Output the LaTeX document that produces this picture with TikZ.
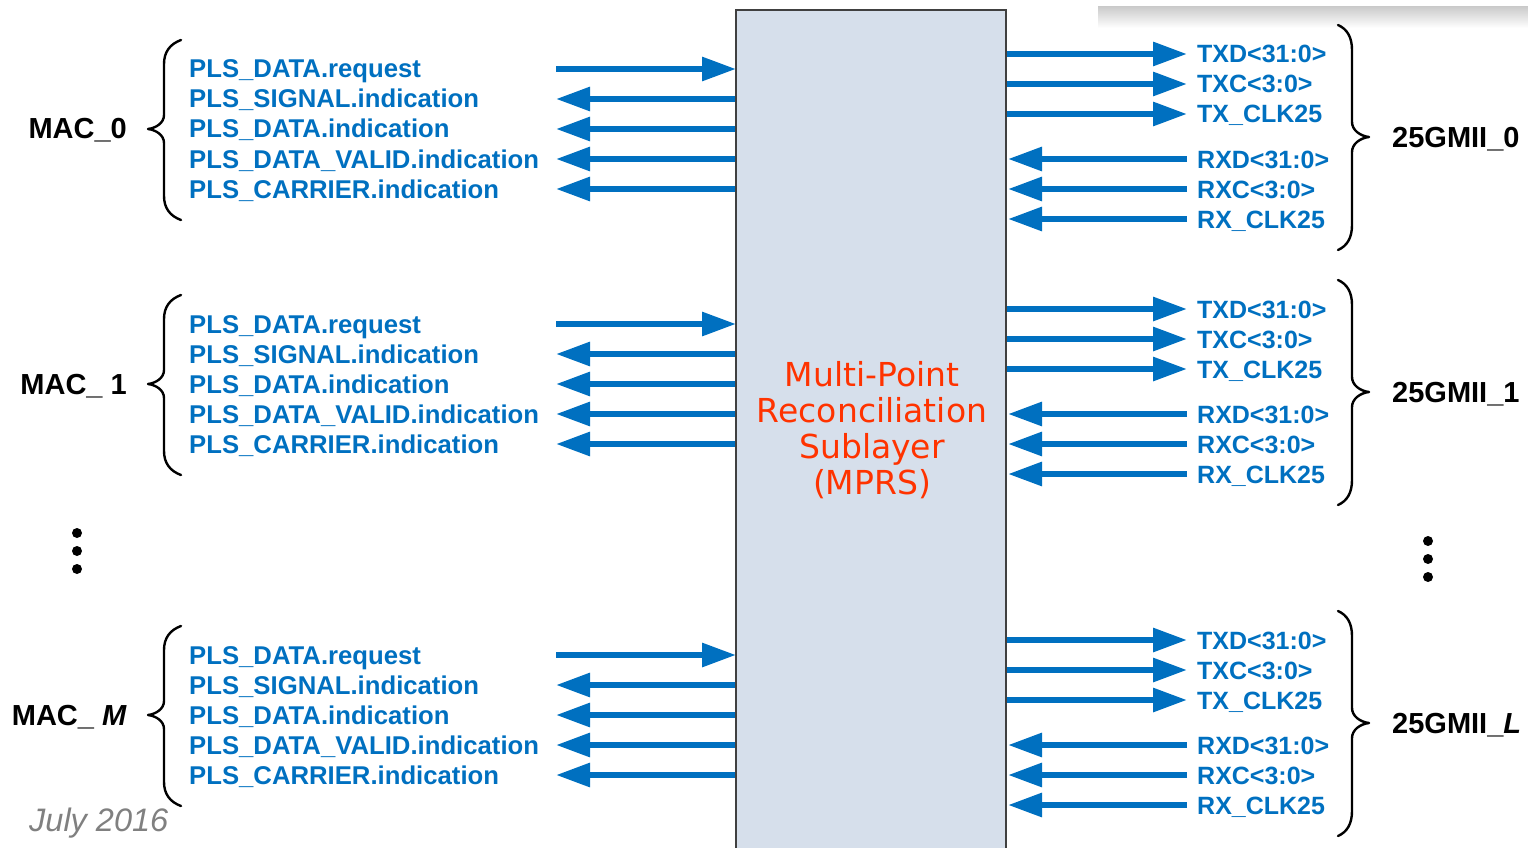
\documentclass[tikz,border=0pt]{standalone}
\usepackage{fontspec}
\setmainfont{Liberation Sans}
\newfontfamily\mprsfont{DejaVu Sans}
\usetikzlibrary{arrows.meta}
\definecolor{sigblue}{RGB}{0,112,192}
\definecolor{mprsred}{RGB}{255,51,0}
\definecolor{boxfill}{RGB}{214,223,235}
\definecolor{boxline}{RGB}{64,64,64}
\definecolor{notegray}{RGB}{128,128,128}
\tikzset{
  sig/.style={inner sep=0pt, text=sigblue, font=\fontsize{25}{30}\selectfont\bfseries},
  macsig/.style={sig, font=\fontsize{25.7}{30}\selectfont\bfseries},
  portname/.style={inner sep=0pt, text=black, font=\fontsize{29}{34}\selectfont\bfseries},
  sigarrow/.style={draw=sigblue, line width=6pt, -{Triangle[length=34pt,width=23pt]}},
  brace/.style={draw=black, line width=2.4pt, line cap=round, line join=round},
  vdot/.style={circle, fill=black, inner sep=0pt, minimum size=10pt},
}
\begin{document}
\begin{tikzpicture}[x=1pt,y=-1pt]
\useasboundingbox (0,0) rectangle (1528,848);

% page strip with soft drop shadow, top right
\shade[top color=black!22, bottom color=white] (1098,5) rectangle (1528,28);
\fill[white] (1098,0) rectangle (1528,6);

% MAC side: signals, arrows and braces
\foreach \g/\dy/\mac in {0/0/{MAC\_0}, 1/255/{MAC\_ 1}, 2/586/{MAC\_ \textit{M}}} {
  \foreach \lbl [count=\i from 0] in {PLS\_DATA.request, PLS\_SIGNAL.indication,
      PLS\_DATA.indication, PLS\_DATA\_VALID.indication, PLS\_CARRIER.indication} {
    \node[macsig, anchor=base west] (ls\g\i) at (189, 78+\dy+30*\i) {\lbl};
    \coordinate (la\g\i) at (556, 69+\dy+30*\i);
    \coordinate (lb\g\i) at (736, 69+\dy+30*\i);
  }
  \draw[sigarrow] (la\g0) -- (lb\g0);
  \foreach \i in {1,...,4} { \draw[sigarrow] (lb\g\i) -- (la\g\i); }
  \draw[brace] (181,40+\dy) .. controls (170,44+\dy) and (164,52+\dy) .. (164,64+\dy)
     -- (164,115+\dy) .. controls (164,123+\dy) and (156,128+\dy) .. (148,129+\dy)
     .. controls (156,130+\dy) and (164,135+\dy) .. (164,143+\dy)
     -- (164,196+\dy) .. controls (164,208+\dy) and (170,216+\dy) .. (181,220+\dy);
  \node[portname, anchor=base east] (mac\g) at (127, 139+\dy) {\mac};
}

% 25GMII side: signals, arrows and braces
\foreach \g/\dy/\mii in {0/0/{25GMII\_0}, 1/255/{25GMII\_1}, 2/586/{25GMII\_\textit{L}}} {
  \foreach \lbl/\yy [count=\i from 0] in {TXD<31:0>/54, TXC<3:0>/84, TX\_CLK25/114,
      RXD<31:0>/159, RXC<3:0>/189, RX\_CLK25/219} {
    \node[sig, anchor=base west] (rs\g\i) at (1197, \yy+9+\dy) {\lbl};
    \coordinate (rb\g\i) at (1006, \yy+\dy);
    \coordinate (ra\g\i) at (1187, \yy+\dy);
  }
  \foreach \i in {0,1,2} { \draw[sigarrow] (rb\g\i) -- (ra\g\i); }
  \foreach \i in {3,4,5} { \draw[sigarrow] (ra\g\i) -- ([xshift=2pt]rb\g\i); }
  \draw[brace] (1338,25+\dy) .. controls (1347,29+\dy) and (1352,37+\dy) .. (1352,50+\dy)
     -- (1352,122+\dy) .. controls (1352,130+\dy) and (1360,136+\dy) .. (1369,137+\dy)
     .. controls (1360,138+\dy) and (1352,144+\dy) .. (1352,152+\dy)
     -- (1352,225+\dy) .. controls (1352,238+\dy) and (1347,246+\dy) .. (1338,250+\dy);
  \node[portname, anchor=base west] (mii\g) at (1392, 147+\dy) {\mii};
}

% Multi-Point Reconciliation Sublayer block
\fill[boxfill] (736,10) rectangle (1006,848);
\draw[boxline, line width=1.5pt] (736,849) |- (1006,10) -- (1006,849);
\node[align=center, text=mprsred, inner sep=0pt,
      font=\mprsfont\fontsize{33}{36}\selectfont] (mprs) at (872,430)
  {Multi-Point\\Reconciliation\\Sublayer\\(MPRS)};

% ellipsis dots
\node[vdot] (ldot1) at (77,533) {};
\node[vdot] (ldot2) at (77,551) {};
\node[vdot] (ldot3) at (77,569) {};
\node[vdot] (rdot1) at (1428,541) {};
\node[vdot] (rdot2) at (1428,559) {};
\node[vdot] (rdot3) at (1428,577) {};

% footer date
\node[anchor=base west, inner sep=0pt, text=notegray,
      font=\fontsize{32.5}{36}\selectfont\itshape] (date) at (29,831) {July 2016};
\end{tikzpicture}
\end{document}
